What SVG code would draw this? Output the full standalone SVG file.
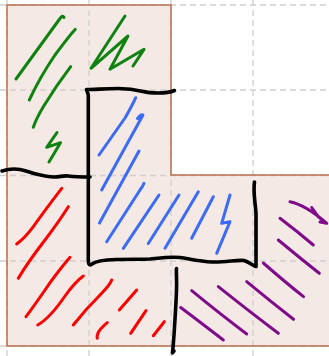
<svg xmlns="http://www.w3.org/2000/svg" width="329" height="356" viewBox="0 0 329 356">
<style>
.grid{stroke:#cfcfcf;stroke-width:1.3;stroke-dasharray:6 4;fill:none}
.ink{fill:none;stroke-linecap:round;stroke-linejoin:round}
.g{stroke:#0f820f;stroke-width:3}
.b{stroke:#3c6cf5;stroke-width:3}
.r{stroke:#ff0000;stroke-width:3}
.p{stroke:#800b8a;stroke-width:3}
.k{stroke:#000;stroke-width:3.6}
</style>
<rect width="329" height="356" fill="#ffffff"/>
<g id="region">
<path d="M7,5 H171 V175 H340 V346 H7 Z" fill="#f5e9e5"/>
</g>
<g id="grid">
<path class="grid" d="M0,5 H329 M0,90 H329 M0,175.5 H329 M0,261 H329 M0,346 H329 M7,0 V356 M89,0 V356 M171,0 V356 M253,0 V356"/>
</g>
<g id="border">
<path d="M7,5 H171 V175 H340 V346 H7 Z" fill="none" stroke="#b8704f" stroke-width="1.5"/>
</g>
<g id="green">
<path class="ink g" d="M64,17.5 Q62.5,14.5 60,18.5 L16,79"/>
<path class="ink g" d="M75.3,29.3 Q70,35 55,55 Q40,77 29.3,100"/>
<path class="ink g" d="M70.7,66.7 Q56,86 43.3,106.7 Q36,119 33.3,127.3"/>
<path class="ink g" d="M57,132.5 L46.7,147.3 L60.5,142.7 L49,162"/>
<path class="ink g" d="M125,16 L91,68.3 L128,36 L110,69.3 L144,49.3 L133,66"/>
</g>
<g id="blue">
<path class="ink b" d="M135.7,97.7 Q132,106 125,118 L99,155"/>
<path class="ink b" d="M137.5,118.5 Q141,114 143,115 L101.7,190"/>
<path class="ink b" d="M139,151 L99.5,223"/>
<path class="ink b" d="M144,183.3 Q143,186 140,190 L106.7,241.7"/>
<path class="ink b" d="M159,195 L123.3,248.3"/>
<path class="ink b" d="M179,195 L148.3,243.5"/>
<path class="ink b" d="M198.3,191.7 L165,248.3"/>
<path class="ink b" d="M213.3,196.7 L191.7,238.3"/>
<path class="ink b" d="M230,195 L221.7,223.3 L230,221.7 L216.7,253.3"/>
</g>
<g id="red">
<path class="ink r" d="M61.7,188.3 Q45,210 33.3,226.7 Q25,238 16.7,244"/>
<path class="ink r" d="M68.3,206.7 Q60,220 45,240 Q28,262 18.3,278.3"/>
<path class="ink r" d="M70,257.3 Q55,275 45,290 Q34,306 26,316.7"/>
<path class="ink r" d="M83.3,276 Q75,282 65,296 Q50,318 37.7,325"/>
<path class="ink r" d="M111.7,280 Q110,285 100,295 Q85,310 73.3,325"/>
<path class="ink r" d="M136.7,290 L119.3,310"/>
<path class="ink r" d="M146,310.7 L130.7,333.3"/>
<path class="ink r" d="M164.3,321.7 L153.3,335.7"/>
<path class="ink r" d="M107.3,322.7 Q101,328 98.5,332 Q96.5,336 97.3,338.3"/>
</g>
<g id="purple">
<path class="ink p" d="M290,201.7 Q306,205 326.7,223.3 L320,222 M311.7,207.5 L318.3,216.7 L326.7,223.3"/>
<path class="ink p" d="M280,218.3 Q298,232 313.3,245"/>
<path class="ink p" d="M278.3,240 Q300,258 319.3,273.3"/>
<path class="ink p" d="M263.3,263 Q285,282 303.5,296.7"/>
<path class="ink p" d="M246.7,281.7 Q270,301 293.5,319.3"/>
<path class="ink p" d="M218.3,286.7 Q250,312 278.3,333.3"/>
<path class="ink p" d="M191.7,290.7 Q220,314 246.7,334"/>
<path class="ink p" d="M180.7,307.5 Q200,322 223.3,340"/>
</g>
<g id="black">
<path class="ink k" d="M174.5,90.5 C170,92.5 165,93 158,93 C150,93 147,92.5 143,91.5 C137,90 130,88.5 118,88.5 C105,88.5 95,89.5 86.5,89.5 L88.3,95 L88.3,262 C88.8,265 90,265.5 92,264 C96,261 102,260 116,259.5 C130,259 140,259.5 150,259 C160,258 170,256.5 180,257.5 C190,259 200,261.5 212,262 C225,262.5 238,259.5 244,260.5 C249,262 252,265 256,266.5 L256,246 L256,213 C255,200 253,192 254.5,182"/>
<path class="ink k" d="M2,171 C8,169 14,168.5 20,169.5 C26,170.5 30,172.5 36,174 C42,175.5 48,177 54,177 C60,177 63,175.5 68,176 C76,177 84,177 90,177"/>
<path class="ink k" d="M176.5,268.5 C176,272 177,280 176.5,290 C176,305 175,320 174,335 C173.5,342 173,348 172.5,353 L174,351"/>
</g>
</svg>
